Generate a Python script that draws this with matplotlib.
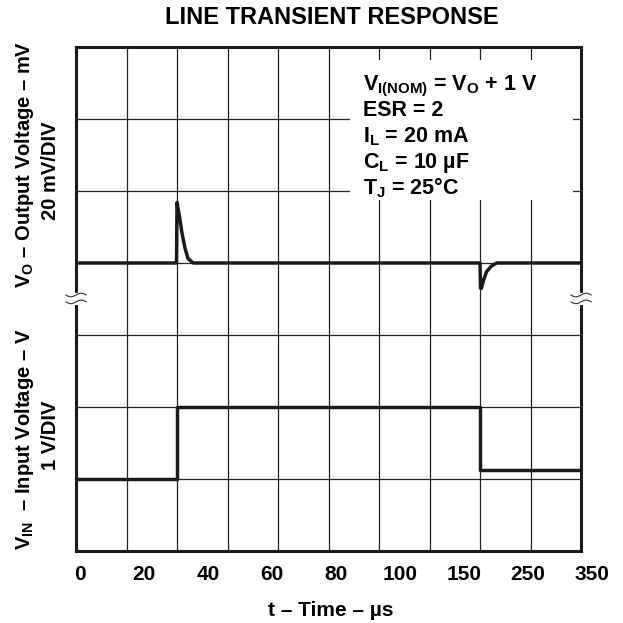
import numpy as np
import matplotlib
matplotlib.use('Agg')
import matplotlib.pyplot as plt

plt.rcParams['font.family'] = ['Liberation Sans', 'DejaVu Sans']
plt.rcParams['font.weight'] = 'bold'
plt.rcParams['mathtext.fontset'] = 'custom'
plt.rcParams['mathtext.rm'] = 'Liberation Sans:bold'
plt.rcParams['mathtext.bf'] = 'Liberation Sans:bold'
plt.rcParams['mathtext.default'] = 'rm'

# oscilloscope traces, in grid divisions (x: 0..10, y: 0..7)
vo_t = [0.08, 1.99, 2.0, 2.05, 2.10, 2.16, 2.22, 2.32, 8.0, 8.01, 8.03, 8.07, 8.13, 8.23, 8.33, 10.0]
vo_y = [4.0, 4.0, 4.84, 4.64, 4.41, 4.20, 4.06, 4.0, 4.0, 3.65, 3.65, 3.76, 3.88, 3.96, 4.0, 4.0]
vin_t = [0.0, 2.0, 2.0, 8.0, 8.0, 10.0]
vin_y = [1.0, 1.0, 2.0, 2.0, 1.13, 1.13]

tick_labels = ['0', '20', '40', '60', '80', '100', '150', '250', '350']
tick_pos = np.linspace(0.08, 10.22, len(tick_labels))

notes = [r'V$_{\rm I(NOM)}$ = V$_{\rm O}$ + 1 V',
         'ESR = 2',
         r'I$_{\rm L}$ = 20 mA',
         r'C$_{\rm L}$ = 10 µF',
         r'T$_{\rm J}$ = 25°C']

fig = plt.figure(figsize=(6.23, 6.23), dpi=100)
ax = fig.add_axes([0.122, 0.1156, 0.8106, 0.809])
ax.set_xlim(0, 10)
ax.set_ylim(0, 7)

for i in range(1, 10):
    ax.axvline(i, color='#222222', lw=0.9, zorder=1)
for j in range(1, 7):
    ax.axhline(j, color='#222222', lw=0.9, zorder=1)

# white box behind the conditions text
ax.add_patch(plt.Rectangle((5.43, 4.875), 4.41, 1.95, facecolor='white',
                           edgecolor='none', zorder=2))

ax.plot(vo_t, vo_y, color='#1a1a1a', lw=2.5, zorder=3, solid_joinstyle='round')
ax.plot(vin_t, vin_y, color='#1a1a1a', lw=2.5, zorder=3)

for s in ax.spines.values():
    s.set_linewidth(2.2)
    s.set_color('#1a1a1a')
ax.set_xticks([])
ax.set_yticks([])

# axis break marks
xs = np.linspace(-0.2, 0.2, 40)
for x0 in [0, 10]:
    ax.plot([x0, x0], [3.45, 3.56], color='white', lw=3, zorder=5, clip_on=False)
    for y0 in [3.555, 3.46]:
        ax.plot(x0 + xs, y0 + 0.025 * np.sin(np.pi * xs / 0.2), color='#333333',
                lw=0.8, zorder=6, clip_on=False)

for k, line in enumerate(notes):
    ax.text(5.68, 6.4 - k * 0.362, line, fontsize=15.5, fontweight='bold',
            ha='left', va='baseline', zorder=4)

for p, lbl in zip(tick_pos, tick_labels):
    ax.text(p, -0.33, lbl, fontsize=15, fontweight='bold', ha='center',
            va='center', clip_on=False)

ax.text(5.05, -0.82, 't – Time – µs', fontsize=15, fontweight='bold',
        ha='center', va='center')

fig.text(0.533, 1 - 17 / 623, 'LINE TRANSIENT RESPONSE', fontsize=17,
         fontweight='bold', ha='center', va='center')

fig.text(25 / 623, 1 - 164 / 623, r'V$_{\rm O}$ – Output Voltage – mV', fontsize=14.5,
         fontweight='bold', rotation=90, ha='center', va='center')
fig.text(50 / 623, 1 - 171 / 623, '20 mV/DIV', fontsize=14.5,
         fontweight='bold', rotation=90, ha='center', va='center')
fig.text(25 / 623, 1 - 439 / 623, r'V$_{\rm IN}$  – Input Voltage – V', fontsize=14.5,
         fontweight='bold', rotation=90, ha='center', va='center')
fig.text(50 / 623, 1 - 435 / 623, '1 V/DIV', fontsize=14.5,
         fontweight='bold', rotation=90, ha='center', va='center')

fig.savefig('out.png', dpi=100)
